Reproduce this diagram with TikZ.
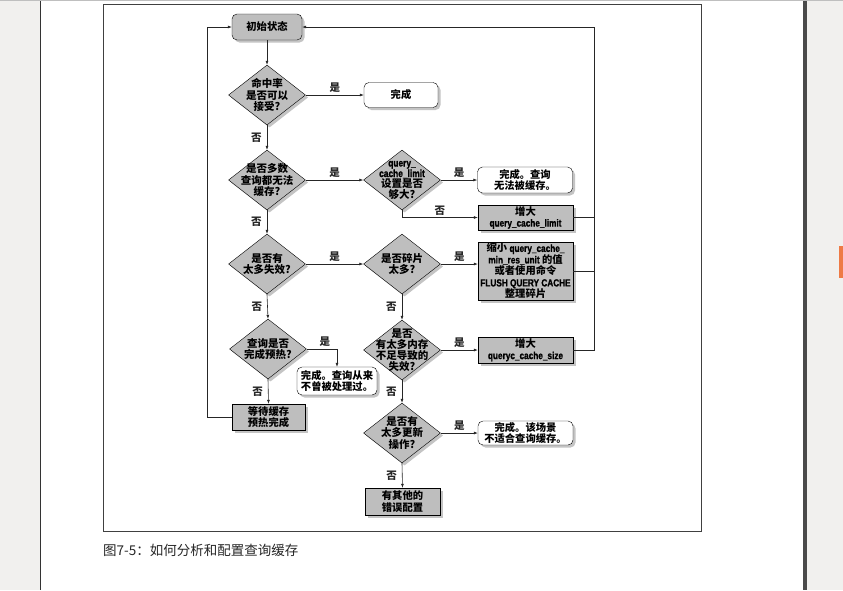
\documentclass[tikz,border=0pt]{standalone}
\usepackage{fontspec}
\setmainfont{Noto Sans CJK SC}
\newfontfamily\narrowfont{Liberation Sans}[FakeStretch=0.8, FakeBold=1.2]
\newcommand\latn[1]{{\narrowfont #1}}
\usetikzlibrary{positioning, shapes.geometric, shadows, arrows.meta}
\definecolor{boxgray}{HTML}{BEBEBE}
\definecolor{shadowgray}{HTML}{8A8A8A}
\definecolor{bandgray}{HTML}{F1F0EE}
\definecolor{banddark}{HTML}{4A4A4A}
\definecolor{tabmark}{HTML}{EE7A45}
\tikzset{
    block/.style={
        draw, fill=boxgray,
        minimum width = 95pt,
        minimum height = 25pt,
        inner sep = 1pt,
        align = center,
        font = \fontsize{10.3}{11.5}\selectfont\bfseries,
        drop shadow = {shadow xshift=2.5pt, shadow yshift=-2.5pt, fill=shadowgray}
    },
    done/.style = {block, fill=white, rounded corners=5pt},
    decision/.style = {
        draw, diamond, fill=boxgray,
        minimum width = 77pt,
        minimum height = 60pt,
        inner sep = 0pt,
        drop shadow = {shadow xshift=2.5pt, shadow yshift=-2.5pt, fill=shadowgray}
    },
    dtext/.style = {align = center, inner sep = 0pt, font = \fontsize{10.5}{11.5}\selectfont\bfseries},
    lbl/.style = {inner sep = 2pt, font = \fontsize{10.5}{12}\selectfont\bfseries},
    flow/.style = {-{Latex[length=4pt, width=3pt]}, line width=0.6pt, black!85}
}
\begin{document}
\begin{tikzpicture}[x=1pt, y=-1pt]
\useasboundingbox (0,0) rectangle (843,590);

% page and viewer bands
\fill[bandgray] (0,0) rectangle (40,590);
\fill[white] (40,0) rectangle (803,590);
\fill[banddark] (803,0) rectangle (807,590);
\fill[bandgray] (807,0) rectangle (843,590);
\fill[tabmark] (839,246) rectangle (843,278);
\draw[black!80, line width=0.8pt] (40.5,0) -- (40.5,590);
\draw[black!25, line width=1pt] (0,0.5) -- (843,0.5);

% frame
\draw[black!75, line width=0.8pt] (103,4) rectangle (701,531);

% Start
\node[block, rounded corners=5pt, minimum width=70pt, minimum height=26pt] (start) at (267,27) {初始状态};

% Left column
\node[decision] (hit) at (267,95) {};
\node[dtext] at (hit) {命中率\\是否可以\\接受?};
\node[done, minimum width=74pt] (done1) at (401,95) {完成};

\node[decision] (nocache) at (267,180) {};
\node[dtext] at (nocache) {是否多数\\查询都无法\\缓存?};

\node[decision] (inval) at (267,264) {};
\node[dtext] at (inval) {是否有\\太多失效?};

\node[decision] (warm) at (268,349) {};
\node[dtext] at (warm) {查询是否\\完成预热?};
\node[done, minimum width=80pt, minimum height=28pt] (done3) at (337,381) {完成。查询从来\\不曾被处理过。};
\node[block, minimum width=73pt, minimum height=26pt] (wait) at (268.5,417) {等待缓存\\预热完成};

% Middle column
\node[decision] (limit) at (402,180) {};
\node[dtext, font=\fontsize{10.5}{10.5}\selectfont\bfseries] at (limit) {\latn{query\_}\\\latn{cache\_limit}\\设置是否\\够大?};

\node[decision] (frag) at (402,264) {};
\node[dtext] at (frag) {是否碎片\\太多?};

\node[decision] (lowmem) at (402,350) {};
\node[dtext, font=\fontsize{10.5}{11}\selectfont\bfseries] at (lowmem) {是否\\有太多内存\\不足导致的\\失效?};

\node[decision] (update) at (402,433) {};
\node[dtext] at (update) {是否有\\太多更新\\操作?};
\node[block, minimum width=75pt, minimum height=27pt] (other) at (402.5,501.5) {有其他的\\错误配置};

% Right column
\node[done, minimum height=26pt] (done2) at (525,180) {完成。查询\\无法被缓存。};
\node[block] (inclimit) at (525.5,217.5) {增大\\\latn{query\_cache\_limit}};
\node[block, minimum height=58pt] (shrink) at (525.5,271) {缩小 \latn{query\_cache\_}\\\latn{min\_res\_unit} 的值\\或者使用命令\\\latn{FLUSH QUERY CACHE}\\整理碎片};
\node[block, minimum height=26pt] (incsize) at (525.5,350) {增大\\\latn{queryc\_cache\_size}};
\node[done, minimum height=24pt] (done4) at (525.5,433) {完成。该场景\\不适合查询缓存。};

% Lines
\draw[flow] (start) -- (hit);
\draw[flow] (hit.east) -- (done1.west) node[lbl, midway, above] {是};
\draw[flow] (hit.south) -- (nocache.north) node[lbl, midway, left=3pt] {否};
\draw[flow] (nocache.east) -- (limit.west) node[lbl, midway, above] {是};
\draw[flow] (nocache.south) -- (inval.north) node[lbl, midway, left=3pt] {否};
\draw[flow] (limit.east) -- (done2.west) node[lbl, midway, above] {是};
\draw[flow] (limit.south) |- (inclimit.west) node[lbl, pos=0.75, above] {否};
\draw[flow] (inval.east) -- (frag.west) node[lbl, midway, above] {是};
\draw[flow] (inval.south) -- (warm.north) node[lbl, midway, left=3pt] {否};
\draw[flow] (frag.east) -- (frag.east -| shrink.west) node[lbl, midway, above] {是};
\draw[flow] (frag.south) -- (lowmem.north) node[lbl, midway, left=3pt] {否};
\draw[flow] (warm.east) -| (done3.north) node[lbl, pos=0.3, above] {是};
\draw[flow] (warm.south) -- (wait.north) node[lbl, midway, left=3pt] {否};
\draw[flow] (lowmem.east) -- (incsize.west) node[lbl, midway, above] {是};
\draw[flow] (lowmem.south) -- (update.north) node[lbl, midway, left=3pt] {否};
\draw[flow] (update.east) -- (done4.west) node[lbl, midway, above] {是};
\draw[flow] (update.south) -- (other.north) node[lbl, midway, left=3pt] {否};

% Loops back to start
\draw[flow] (wait.west) -- ++(-25,0) |- (start.west);
\draw[line width=0.6pt, black!85] (inclimit.east) -- ++(21,0);
\draw[line width=0.6pt, black!85] (shrink.east) -- ++(21,0);
\draw[flow] (incsize.east) -- ++(21,0) |- (start.east);

% Caption
\node[anchor=west, inner sep=0pt, font=\fontsize{13.5}{15}\selectfont, text=black!85] (caption) at (103,550) {图7-5：如何分析和配置查询缓存};

\end{tikzpicture}
\end{document}
